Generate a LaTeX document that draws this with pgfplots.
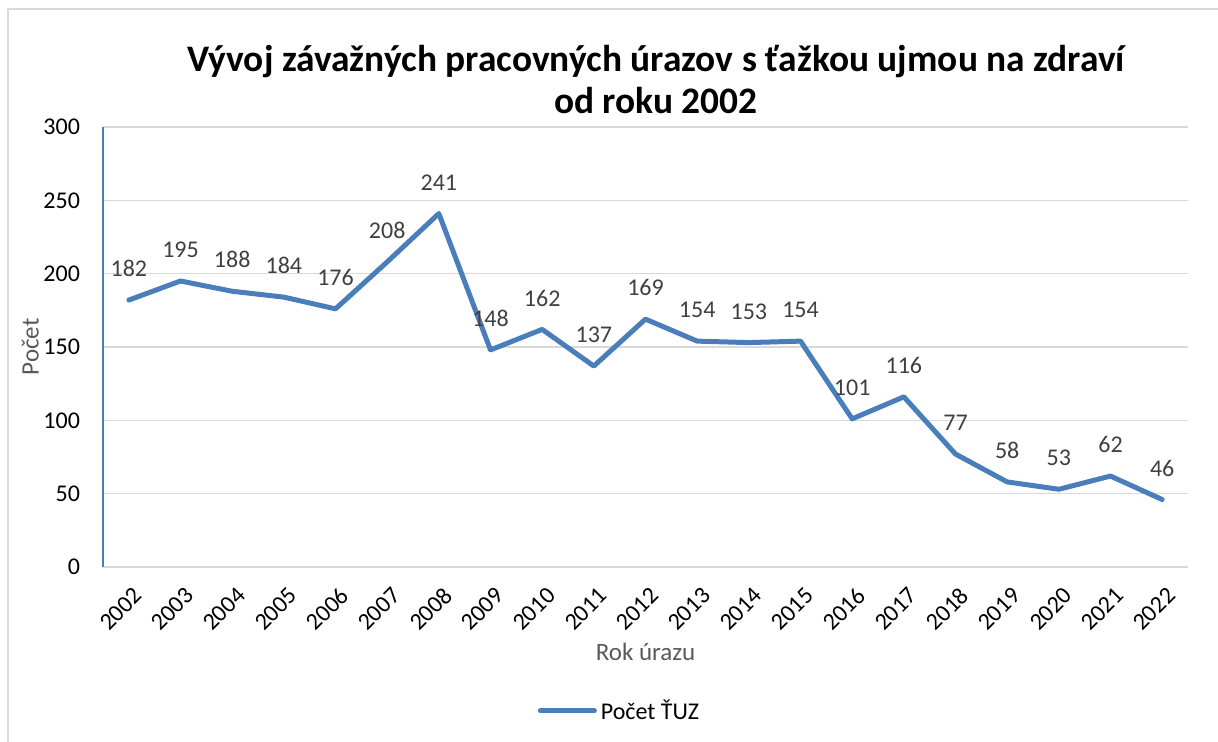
\documentclass[border=0pt]{standalone}
\usepackage{pgfplots}
\pgfplotsset{compat=1.18}
\usepackage{fontspec}
\setmainfont{Carlito}
\definecolor{linec}{HTML}{4A7EBB}
\definecolor{gridc}{HTML}{D9D9D9}
\definecolor{labc}{HTML}{404040}
\definecolor{titc}{HTML}{595959}

\begin{document}
\begin{tikzpicture}
\useasboundingbox (0,0) rectangle (609pt,371pt);
\draw[color=gridc, line width=0.6pt] (4pt,0) -- (4pt,366.5pt) -- (609pt,366.5pt);

\node[font=\fontsize{18.7}{19}\selectfont\bfseries, align=center] at (328pt,331pt)
  {Vývoj závažných pracovných úrazov s ťažkou ujmou na zdraví\\[2pt]od roku 2002};

\begin{axis}[%
at={(51.5pt,87.5pt)},
anchor=south west,
width=542.5pt,
height=220pt,
scale only axis,
clip=false,
xmin=-0.5, xmax=20.5,
ymin=0, ymax=300,
ytick={0,50,...,300},
xtick={0,...,20},
xticklabels={2002,2003,2004,2005,2006,2007,2008,2009,2010,2011,2012,2013,2014,2015,2016,2017,2018,2019,2020,2021,2022},
major tick length=0pt,
axis x line*=bottom,
axis y line*=left,
x axis line style={-, draw=gridc, line width=0.75pt},
y axis line style={-, draw=linec, line width=0.75pt},
ymajorgrids,
major grid style={draw=gridc, line width=0.75pt},
/pgf/number format/assume math mode=true,
ticklabel style={font=\fontsize{12}{13}\selectfont, color=black},
yticklabel style={xshift=-8pt},
xticklabel style={rotate=45, anchor=east, yshift=-12pt, xshift=-2pt},
xlabel={Rok úrazu},
ylabel={Počet},
label style={font=\fontsize{12.5}{13}\selectfont, color=titc},
xlabel style={at={(axis description cs:0.5,-0.193)}, anchor=center},
ylabel style={at={(axis description cs:-0.067,0.5)}, anchor=center, rotate=0},
legend style={at={(axis description cs:0.477,-0.327)}, anchor=center, draw=none,
  font=\fontsize{12}{13}\selectfont},
legend image code/.code={\draw[#1, line width=2.5pt, line cap=round] (0pt,0pt) -- (27pt,0pt);},
legend cell align=left,
]
\addplot[
color=linec,
line width=2.5pt,
line join=round,
line cap=round,
nodes near coords,
every node near coord/.append style={font=\fontsize{12}{13}\selectfont, color=labc, yshift=7pt}
]
table[row sep=crcr]{
0 182\\
1 195\\
2 188\\
3 184\\
4 176\\
5 208\\
6 241\\
7 148\\
8 162\\
9 137\\
10 169\\
11 154\\
12 153\\
13 154\\
14 101\\
15 116\\
16 77\\
17 58\\
18 53\\
19 62\\
20 46\\
};
\addlegendentry{Počet ŤUZ}
\end{axis}
\end{tikzpicture}
\end{document}
